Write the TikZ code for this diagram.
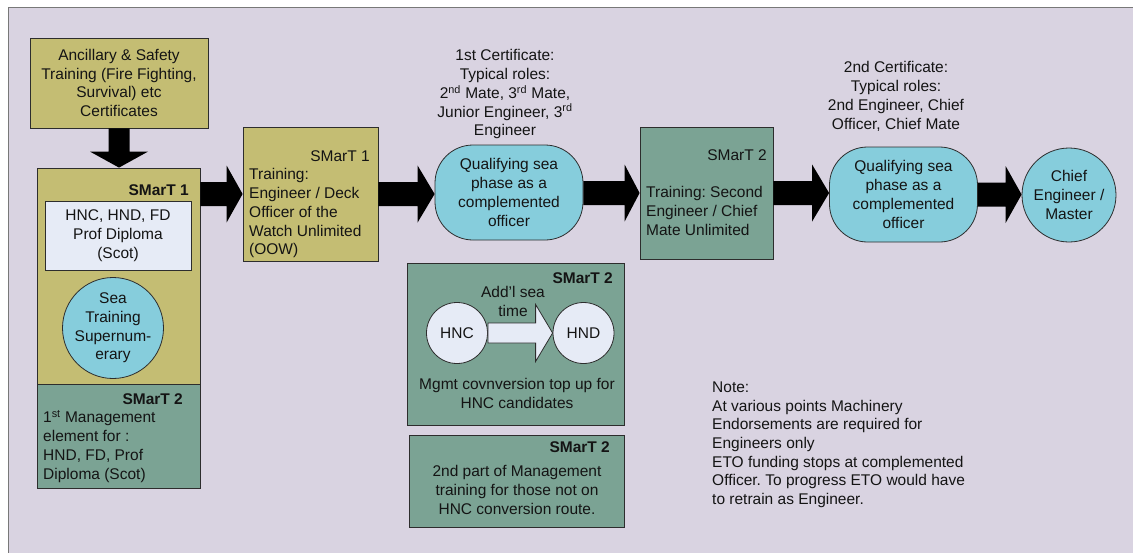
\documentclass[tikz,border=0pt]{standalone}
\usepackage{fontspec}
\setmainfont{Liberation Sans}
\usetikzlibrary{calc}
\frenchspacing

\definecolor{panel}{RGB}{217,211,225}
\definecolor{panelrule}{RGB}{120,120,120}
\definecolor{olive}{RGB}{196,189,115}
\definecolor{sage}{RGB}{123,163,148}
\definecolor{seacyan}{RGB}{134,205,220}
\definecolor{pale}{RGB}{230,235,246}
\definecolor{edge}{RGB}{45,45,45}
\definecolor{ink}{RGB}{20,20,20}

\tikzset{
  txt/.style={font=\fontsize{15.5}{18.7}\selectfont, inner sep=0pt, text=ink},
  box/.style={txt, draw=edge, line width=0.8pt, rectangle},
  olivebox/.style={box, fill=olive},
  sagebox/.style={box, fill=sage},
  palebox/.style={box, fill=pale},
  seaphase/.style={box, fill=seacyan, rounded corners=38pt, align=center,
                   minimum width=148pt, minimum height=95pt},
  disc/.style={box, circle, fill=#1},
  tag/.style={txt, anchor=east},
  boldtag/.style={txt, anchor=east, font=\fontsize{15.5}{18.7}\selectfont\bfseries},
  bigarrow/.style={fill=black},
  palearrow/.style={fill=pale, draw=edge, line width=0.8pt},
}

% horizontal block arrow from #1 to the tip #2 (same height)
\newcommand{\harrow}[6]{%
  \path[#6] ($(#1)+(0,-#3)$) -- ($(#2)+(-#5,-#3)$) -- ($(#2)+(-#5,-#4)$) -- (#2)
    -- ($(#2)+(-#5,#4)$) -- ($(#2)+(-#5,#3)$) -- ($(#1)+(0,#3)$) -- cycle;}

\begin{document}
\begin{tikzpicture}[x=1pt, y=-1pt]
\useasboundingbox (0,0) rectangle (1133,552);
\clip (0,0) rectangle (1133,552);

% backdrop panel
\fill[panel] (8,7) rectangle (1140,560);
\draw[panelrule, line width=0.8pt] (8,560) -- (8,7) -- (1140,7);

% ancillary training
\node[olivebox, minimum width=178pt, minimum height=90pt, align=center] (anc) at (119,83)
  {Ancillary \& Safety\\Training (Fire Fighting,\\Survival) etc\\Certificates};

% left column: SMarT 1 and SMarT 2
\node[olivebox, minimum width=163pt, minimum height=216pt] (s1l) at (118.5,276) {};
\node[sagebox, minimum width=163pt, minimum height=104pt] (s2l) at (118.5,436) {};
\node[boldtag] (s1ltag) at (189,190) {SMarT 1};
\node[palebox, minimum width=146pt, minimum height=69pt, align=center] (quals) at (118,235.5)
  {HNC, HND, FD\\Prof Diploma\\(Scot)};
\node[disc=seacyan, minimum size=101pt] (sea) at (113,328) {};
\node[txt, align=center] (seatxt) at (sea) {Sea\\Training\\Supernum-\\erary};
\node[boldtag] (s2ltag) at (183,399) {SMarT 2};
\node[txt, align=left, anchor=north west] (s2ltxt) at (43,410.5)
  {1\textsuperscript{st} Management\\element for :\\HND, FD, Prof\\Diploma (Scot)};

% officer of the watch training
\node[olivebox, minimum width=135pt, minimum height=134pt] (oow) at (310.5,194) {};
\node[tag] (oowtag) at (370,156) {SMarT 1};
\node[txt, align=left, anchor=north west] (oowtxt) at (249,168.5)
  {Training:\\Engineer / Deck\\Officer of the\\Watch Unlimited\\(OOW)};

% first sea phase
\node[seaphase] (q1) at (509,192.5) {Qualifying sea\\phase as a\\complemented\\officer};
\node[txt, align=center, anchor=north] (cert1) at (505,49.5)
  {1st Certificate:\\Typical roles:\\2\textsuperscript{nd} Mate, 3\textsuperscript{rd} Mate,\\Junior Engineer, 3\textsuperscript{rd}\\Engineer};

% second engineer / chief mate training
\node[sagebox, minimum width=133pt, minimum height=132pt] (s2m) at (706.5,193) {};
\node[tag] (s2mtag) at (767,155) {SMarT 2};
\node[txt, align=left, anchor=north west] (s2mtxt) at (646,186.5)
  {Training: Second\\Engineer / Chief\\Mate Unlimited};

% second sea phase
\node[seaphase] (q2) at (903.5,194.5) {Qualifying sea\\phase as a\\complemented\\officer};
\node[txt, align=center, anchor=north] (cert2) at (896,61.5)
  {2nd Certificate:\\Typical roles:\\2nd Engineer, Chief\\Officer, Chief Mate};

% final role
\node[disc=seacyan, minimum size=94pt] (chief) at (1069,195) {};
\node[txt, align=center] (chieftxt) at (chief) {Chief\\Engineer /\\Master};

% HNC conversion
\node[sagebox, minimum width=217pt, minimum height=162pt] (conv) at (515.5,344) {};
\node[boldtag] (convtag) at (613,278) {SMarT 2};
\node[disc=pale, minimum size=61pt] (hnc) at (457,333) {HNC};
\node[disc=pale, minimum size=61pt] (hnd) at (583.5,333) {HND};
\harrow{hnc.east}{hnd.west}{10}{28.5}{17}{palearrow}
\node[txt, align=center, anchor=north] (seatime) at (513,286.5) {Add’l sea\\time};
\node[txt, align=center, anchor=north] (convtxt) at (517,378.5)
  {Mgmt covnversion top up for\\HNC candidates};

% second part of management
\node[sagebox, minimum width=215pt, minimum height=92pt] (mgmt) at (516.5,481) {};
\node[boldtag] (mgmttag) at (610,447) {SMarT 2};
\node[txt, align=center, anchor=north] (mgmttxt) at (517,465.5)
  {2nd part of Management\\training for those not on\\HNC conversion route.};

% note
\node[txt, align=left, anchor=north west] (note) at (712,381.5)
  {Note:\\At various points Machinery\\Endorsements are required for\\Engineers only\\ETO funding stops at complemented\\Officer. To progress ETO would have\\to retrain as Engineer.};

% progression arrows
\coordinate (a1s) at (s1l.east |- oow.west);
\coordinate (a2e) at (q1.west |- oow.east);
\coordinate (a3s) at (q1.east |- s2m.west);
\coordinate (a4e) at (q2.west |- s2m.east);
\coordinate (a5e) at (chief.west |- q2.east);
\harrow{a1s}{oow.west}{12}{28.5}{16}{bigarrow}
\harrow{oow.east}{a2e}{12}{28.5}{17}{bigarrow}
\harrow{a3s}{s2m.west}{12}{28.5}{15}{bigarrow}
\harrow{s2m.east}{a4e}{12}{28.5}{17}{bigarrow}
\harrow{q2.east}{a5e}{12}{28.5}{16}{bigarrow}

% arrow down into the left column
\coordinate (dtip) at (anc.south |- s1l.north);
\fill[black] ($(anc.south)+(-10.5,0)$) -- ($(dtip)+(-10.5,-16)$) -- ($(dtip)+(-29,-16)$)
  -- (dtip) -- ($(dtip)+(29,-16)$) -- ($(dtip)+(10.5,-16)$) -- ($(anc.south)+(10.5,0)$) -- cycle;
\end{tikzpicture}
\end{document}
